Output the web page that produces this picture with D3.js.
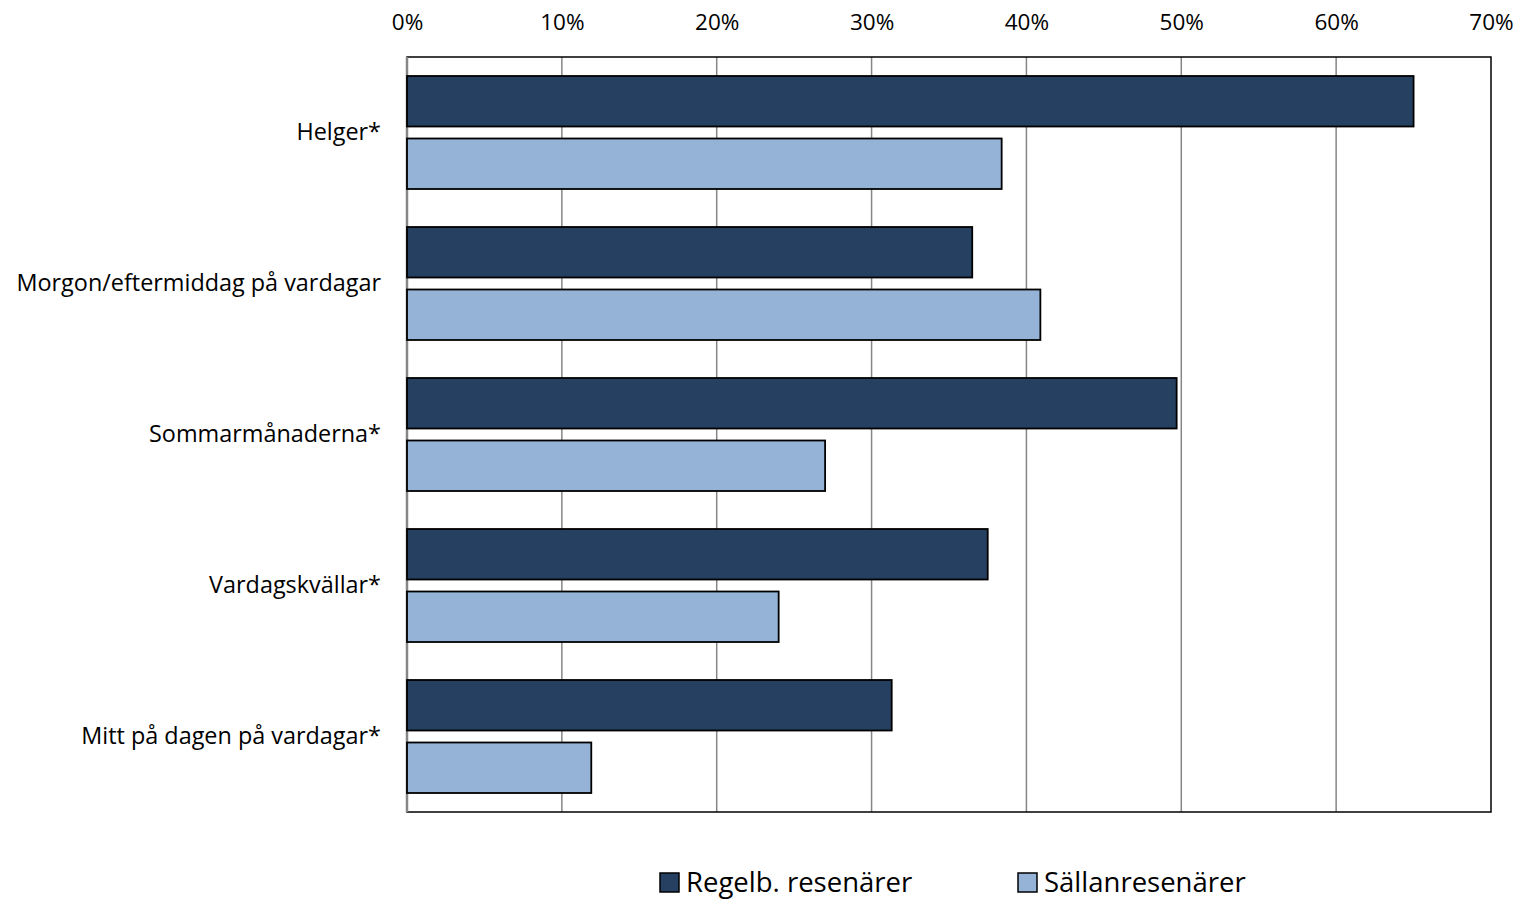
<!DOCTYPE html>
<html><head><meta charset="utf-8">
<script src="https://cdn.jsdelivr.net/npm/d3@7"></script>
<style>body{margin:0;background:#fff}svg{display:block}text{font-family:"Open Sans",sans-serif;fill:#000}</style>
</head><body><svg id="c" width="1519" height="900"></svg>
<script>
const categories = ["Helger*","Morgon/eftermiddag på vardagar","Sommarmånaderna*","Vardagskvällar*","Mitt på dagen på vardagar*"];
const seriesNames = ["Regelb. resenärer","Sällanresenärer"];
const regular = [65.0, 36.5, 49.7, 37.5, 31.3];
const seldom = [38.4, 40.9, 27.0, 24.0, 11.9];
const tickValues = [0,10,20,30,40,50,60,70];
const colors = ["#264061","#95B3D7"];

const svg = d3.select("#c");
const L=407, R=1491, T=57, B=812;
const FONT = "'Open Sans',sans-serif";
const x = d3.scaleLinear().domain([0,70]).range([L,R]);
const y = d3.scaleBand().domain(categories).range([T,B]).paddingInner(0).paddingOuter(0);
const y2 = d3.scaleBand().domain([0,1]).range([0,y.bandwidth()]).paddingInner(0.192).paddingOuter(0.304);

// gridlines
svg.append("g").selectAll("line").data(tickValues.slice(1,-1)).join("line")
 .attr("x1",d=>x(d)).attr("x2",d=>x(d)).attr("y1",T).attr("y2",B)
 .attr("stroke","#868686").attr("stroke-width",1.5);

// frame
svg.append("rect").attr("x",L).attr("y",T).attr("width",R-L).attr("height",B-T)
 .attr("fill","none").attr("stroke","#000").attr("stroke-width",1.5);
svg.append("line").attr("x1",L).attr("x2",L).attr("y1",T).attr("y2",B).attr("stroke","#868686").attr("stroke-width",2.5);

// top axis
const ax = d3.axisTop(x).tickValues(tickValues).tickFormat(d=>d+"%").tickSize(0).tickPadding(0);
const g = svg.append("g").attr("transform",`translate(0,${T})`).call(ax);
g.select(".domain").remove();
g.selectAll("text").attr("y",-27).attr("dy","0").style("font-size","22.5px").style("font-family",FONT);

// bars
const data = categories.map((c,i)=>({c, vals:[regular[i],seldom[i]]}));
const grp = svg.append("g").selectAll("g").data(data).join("g").attr("transform",d=>`translate(0,${y(d.c)})`);
grp.selectAll("rect").data(d=>d.vals.map((v,k)=>({v,k}))).join("rect")
 .attr("x",x(0)).attr("y",d=>y2(d.k)).attr("height",y2.bandwidth())
 .attr("width",d=>x(d.v)-x(0)).attr("fill",d=>colors[d.k])
 .attr("stroke","#000").attr("stroke-width",1.8);

// category labels
const ay = d3.axisLeft(y).tickSize(0).tickPadding(26);
const gy = svg.append("g").attr("transform",`translate(${L},0)`).call(ay);
gy.select(".domain").remove();
gy.selectAll("text").style("font-size","23.4px").style("font-family",FONT);

// legend
const legX=[660,1018];
const lg = svg.append("g").selectAll("g").data(seriesNames).join("g").attr("transform",(d,i)=>`translate(${legX[i]},873)`);
lg.append("rect").attr("width",19).attr("height",19).attr("fill",(d,i)=>colors[i]).attr("stroke","#000").attr("stroke-width",1.5);
lg.append("text").attr("x",26).attr("y",19).style("font-size","27.5px").text(d=>d);
</script></body></html>
